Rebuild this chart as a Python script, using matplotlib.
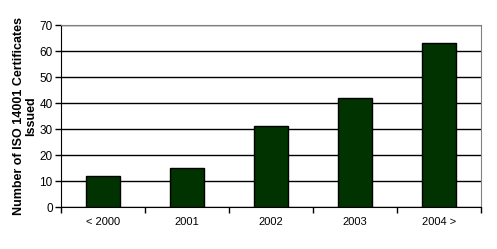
import matplotlib.pyplot as plt

plt.rcParams["font.family"] = ["Liberation Sans", "DejaVu Sans"]

categories = ["< 2000", "2001", "2002", "2003", "2004 >"]
certificates = [12, 15, 31, 42, 63]

fig = plt.figure(figsize=(4.97, 2.49), dpi=100)
ax = fig.add_axes([61 / 497, 42 / 249, 420 / 497, 182 / 249])

x = range(len(categories))
ax.bar(x, certificates, width=0.41, color="#003300", edgecolor="black", linewidth=1, zorder=3)

ax.set_xlim(-0.5, len(categories) - 0.5)
ax.set_ylim(0, 70)
ax.set_yticks(range(0, 71, 10))
ax.yaxis.grid(True, color="black", linewidth=1, zorder=0)
ax.set_xticks(list(x))
ax.set_xticklabels(categories, fontsize=8)
ax.set_xticks([i - 0.5 for i in range(len(categories) + 1)], minor=True)
ax.tick_params(axis="x", which="major", length=0, pad=7)
ax.tick_params(axis="x", which="minor", length=4, width=1, color="black")
ax.tick_params(axis="y", length=4, width=1, labelsize=8.5, pad=2)

for side in ["top", "right"]:
    ax.spines[side].set_color("#808080")
for side in ["left", "bottom"]:
    ax.spines[side].set_color("black")

ax.set_ylabel("Number of ISO 14001 Certificates\nIssued", fontsize=9, fontweight="bold", labelpad=2, linespacing=1.0)

fig.savefig("out.png", dpi=100)
